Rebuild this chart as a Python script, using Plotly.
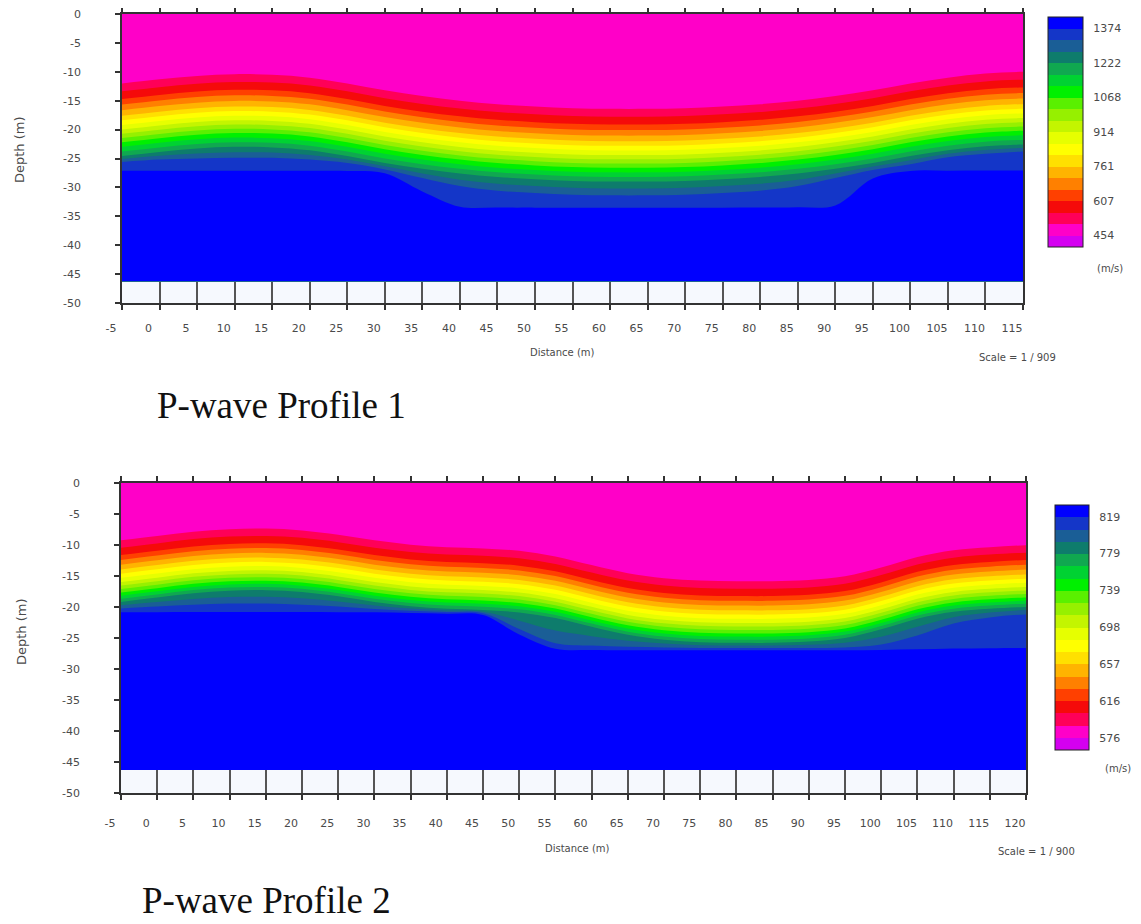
import plotly.graph_objects as go

# page is 1141x924; the browser body has an 8 px margin, so the figure is 8 px smaller
PAGE_W, PAGE_H = 1141, 924
OFF = 8
W, H = PAGE_W - OFF, PAGE_H - OFF

# ---------------- shared colour bands (bottom -> top) ----------------
BAND_COLORS = [
    "#D400F0", "#FF00C8", "#FF0058", "#F50A0A", "#FF4000",
    "#FF8000", "#FFB400", "#FFE000", "#FFFF00", "#E6FF00",
    "#C3F500", "#96F000", "#5AF000", "#00F000", "#00D232",
    "#10A850", "#0E7C6C", "#1A5E96", "#1436C8", "#0000FF",
]

# ---------------- Profile 1 ----------------
P1_DIST = [-5, 0, 5, 10, 15, 20, 25, 30, 35, 40, 45, 50, 55, 60, 65, 70, 75, 80,
           85, 90, 95, 100, 105, 110, 115]
# velocity (m/s) of each isoline row, and depth (m) of that isoline along the profile
P1_ROW_VEL = [480, 505, 607, 761, 914, 1068, 1222, 1324, 1376, 1400]
P1_D_SURF = [0] * 25
P1_D_505 = [-12.0, -11.3, -10.7, -10.4, -10.5, -11.0, -12.0, -13.2, -14.2, -15.0, -15.6, -16.0, -16.3,
            -16.4, -16.4, -16.3, -16.0, -15.6, -15.0, -14.2, -13.2, -12.0, -11.0, -10.3, -10.0]
P1_D_607 = [-14.7, -14.0, -13.4, -13.1, -13.2, -13.7, -14.7, -15.9, -16.9, -17.7, -18.3, -18.7, -19.0,
            -19.1, -19.1, -19.0, -18.7, -18.3, -17.7, -16.9, -15.9, -14.7, -13.7, -13.0, -12.7]
P1_D_761 = [-17.6, -16.9, -16.3, -16.0, -16.1, -16.6, -17.6, -18.8, -19.8, -20.6, -21.2, -21.6, -21.9,
            -22.0, -22.0, -21.9, -21.6, -21.2, -20.6, -19.8, -18.8, -17.6, -16.6, -15.9, -15.6]
P1_D_914 = [-20.0, -19.3, -18.7, -18.4, -18.5, -19.0, -20.0, -21.2, -22.2, -23.0, -23.6, -24.0, -24.3,
            -24.4, -24.4, -24.3, -24.0, -23.6, -23.0, -22.2, -21.2, -20.0, -19.0, -18.3, -18.0]
P1_D_1068 = [-22.2, -21.5, -20.9, -20.6, -20.7, -21.2, -22.2, -23.4, -24.4, -25.2, -25.8, -26.2, -26.5,
             -26.6, -26.6, -26.5, -26.2, -25.8, -25.2, -24.4, -23.4, -22.2, -21.2, -20.5, -20.2]
P1_D_1222 = [-24.6, -23.9, -23.3, -23.0, -23.1, -23.6, -24.6, -25.8, -26.8, -27.6, -28.2, -28.6, -28.9,
             -29.0, -29.0, -28.9, -28.6, -28.2, -27.6, -26.8, -25.8, -24.6, -23.6, -22.9, -22.6]
P1_D_1324 = [-25.6, -25.2, -25.0, -24.9, -24.9, -25.2, -25.8, -26.9, -28.4, -29.8, -30.6, -31.0, -31.3,
             -31.4, -31.4, -31.3, -31.0, -30.6, -29.8, -28.4, -27.0, -26.0, -24.8, -24.2, -23.8]
P1_D_1376 = [-27.2, -27.2, -27.2, -27.2, -27.2, -27.2, -27.2, -27.6, -30.8, -33.5, -33.6, -33.6, -33.6,
             -33.6, -33.6, -33.6, -33.6, -33.6, -33.6, -33.3, -28.5, -27.2, -27.2, -27.2, -27.2]
P1_D_BASE = [-46.3] * 25
P1_ROWS = [P1_D_SURF, P1_D_505, P1_D_607, P1_D_761, P1_D_914, P1_D_1068, P1_D_1222,
           P1_D_1324, P1_D_1376, P1_D_BASE]
P1_LEVELS = dict(start=454.2, end=1374.1, size=51.1)
P1_ZRANGE = (403.1, 1425.1)
P1_CB_TICKS = [454, 607, 761, 914, 1068, 1222, 1374]
P1_XTICKS = list(range(-5, 120, 5))

# ---------------- Profile 2 ----------------
P2_DIST = [-5, 0, 5, 10, 15, 20, 25, 30, 35, 40, 45, 50, 55, 60, 65, 70, 75, 80,
           85, 90, 95, 100, 105, 110, 115, 120]
P2_ROW_VEL = [583, 589, 616, 658, 698, 739, 779, 805, 820, 826]
P2_D_SURF = [0] * 26
P2_D_589 = [-9.2, -8.5, -7.8, -7.4, -7.3, -7.6, -8.3, -9.2, -9.9, -10.3, -10.5, -10.9, -11.8, -13.2,
            -14.5, -15.3, -15.7, -15.8, -15.8, -15.6, -15.0, -13.6, -11.9, -10.8, -10.3, -10.0]
P2_D_616 = [-11.6, -10.9, -10.2, -9.8, -9.7, -10.0, -10.7, -11.6, -12.3, -12.7, -12.9, -13.3, -14.2,
            -15.6, -16.9, -17.7, -18.1, -18.2, -18.2, -18.0, -17.4, -16.0, -14.3, -13.2, -12.7, -12.4]
P2_D_658 = [-14.0, -13.3, -12.6, -12.2, -12.1, -12.4, -13.1, -14.0, -14.7, -15.1, -15.3, -15.7, -16.6,
            -18.0, -19.3, -20.1, -20.5, -20.6, -20.6, -20.4, -19.8, -18.4, -16.7, -15.6, -15.1, -14.8]
P2_D_698 = [-16.0, -15.3, -14.6, -14.2, -14.1, -14.4, -15.1, -16.0, -16.7, -17.1, -17.3, -17.7, -18.6,
            -20.0, -21.3, -22.1, -22.5, -22.6, -22.6, -22.4, -21.8, -20.4, -18.7, -17.6, -17.1, -16.8]
P2_D_739 = [-17.7, -17.0, -16.3, -15.9, -15.8, -16.1, -16.8, -17.7, -18.4, -18.8, -19.0, -19.4, -20.3,
            -21.7, -23.0, -23.8, -24.2, -24.3, -24.3, -24.1, -23.5, -22.1, -20.4, -19.3, -18.8, -18.5]
P2_D_779 = [-19.2, -18.5, -17.8, -17.4, -17.3, -17.6, -18.3, -19.2, -19.9, -20.3, -20.5, -20.9, -21.8,
            -23.2, -24.5, -25.3, -25.7, -25.8, -25.8, -25.6, -25.0, -23.6, -21.9, -20.8, -20.3, -20.0]
P2_D_805 = [-20.2, -19.9, -19.6, -19.4, -19.4, -19.6, -19.9, -20.3, -20.6, -20.8, -21.0, -23.5, -25.8,
            -26.2, -26.4, -26.5, -26.6, -26.6, -26.6, -26.6, -26.5, -26.0, -24.5, -22.5, -21.5, -21.0]
P2_D_820 = [-20.9, -20.9, -20.9, -20.9, -20.9, -20.9, -20.9, -20.9, -21.0, -21.1, -21.3, -24.5, -26.8,
            -27.0, -27.0, -27.0, -27.0, -27.0, -27.0, -27.0, -27.0, -27.0, -27.0, -27.0, -27.0, -27.0]
P2_D_BASE = [-46.3] * 26
P2_ROWS = [P2_D_SURF, P2_D_589, P2_D_616, P2_D_658, P2_D_698, P2_D_739, P2_D_779,
           P2_D_805, P2_D_820, P2_D_BASE]
P2_LEVELS = dict(start=576, end=819.1, size=13.5)
P2_ZRANGE = (562.5, 832.5)
P2_CB_TICKS = [576, 616, 657, 698, 739, 779, 819]
P2_XTICKS = list(range(-5, 125, 5))

Y_TICKS = list(range(0, -55, -5))

FONT = "DejaVu Sans, Verdana, sans-serif"
SERIF = "Liberation Serif, Times New Roman, serif"
GREY = "#4a4a4a"


def band_scale(colors):
    n = len(colors)
    cs = []
    for i, c in enumerate(colors):
        cs.append([i / n, c])
        cs.append([(i + 1) / n, c])
    return cs


def hidden_axis(smooth):
    return dict(showgrid=False, showline=False, showticklabels="none", startline=False,
                endline=False, minorgridcount=0, smoothing=smooth,
                gridcolor="rgba(0,0,0,0)", linecolor="rgba(0,0,0,0)", title=dict(text=""))


def px_x(p):
    return (p - OFF) / W


def px_y(p):
    return 1 - (p - OFF) / H


fig = go.Figure()


def add_profile(cid, dist, row_vel, rows, levels, zr, cb_ticks, xa, ya, cb_x, cb_y, cb_len, cb_th):
    # the carpet is continued one station past the right end of the axis (clipped, not visible)
    # so that the carpet's closing edge falls outside the plotted range
    step = dist[-1] - dist[-2]
    dist_c = dist + [dist[-1] + step]
    rows_c = [r + [r[-1]] for r in rows]
    a_idx = list(range(len(dist_c)))
    b_idx = list(range(len(row_vel)))
    fig.add_trace(go.Carpet(
        carpet=cid, a=a_idx, b=b_idx,
        x=[dist_c for _ in rows_c], y=rows_c,
        xaxis=xa, yaxis=ya,
        aaxis=hidden_axis(1), baxis=hidden_axis(0),
    ))
    fig.add_trace(go.Contourcarpet(
        carpet=cid, a=a_idx, b=b_idx,
        z=[[v] * len(dist_c) for v in row_vel],
        xaxis=xa, yaxis=ya,
        autocontour=False,
        contours=dict(start=levels["start"], end=levels["end"], size=levels["size"],
                      coloring="fill", showlines=False),
        line=dict(width=0),
        colorscale=band_scale(BAND_COLORS), zmin=zr[0], zmax=zr[1],
        colorbar=dict(
            x=px_x(cb_x), xanchor="left", y=px_y(cb_y), yanchor="middle",
            xpad=0, ypad=0,
            len=cb_len / H, lenmode="fraction", thickness=cb_th, thicknessmode="pixels",
            outlinecolor="#222", outlinewidth=1,
            tickmode="array", tickvals=cb_ticks, ticktext=[str(t) for t in cb_ticks],
            ticks="outside", ticklen=8, tickcolor="rgba(0,0,0,0)",
            tickfont=dict(family=FONT, size=11, color=GREY),
        ),
    ))


add_profile("c1", P1_DIST, P1_ROW_VEL, P1_ROWS, P1_LEVELS, P1_ZRANGE, P1_CB_TICKS,
            "x", "y", 1048, 132, 230, 35)
add_profile("c2", P2_DIST, P2_ROW_VEL, P2_ROWS, P2_LEVELS, P2_ZRANGE, P2_CB_TICKS,
            "x2", "y2", 1055, 627.5, 245, 34)


def xaxis_cfg(rng, ticks, dom, anchor, standoff):
    return dict(
        domain=dom, range=rng, anchor=anchor,
        tickmode="array", tickvals=ticks, ticktext=[str(t) for t in ticks],
        ticks="outside", ticklen=5, tickwidth=1.5, tickcolor="#333",
        showline=True, linecolor="#333", linewidth=1.5, mirror="ticks",
        showgrid=True, gridcolor="#555", gridwidth=1.5,
        zeroline=False, ticklabelshift=-11, ticklabelstandoff=standoff,
        ticklabeloverflow="allow",
        tickfont=dict(family=FONT, size=11, color=GREY),
    )


def yaxis_cfg(dom, anchor):
    return dict(
        domain=dom, range=[-50, 0], anchor=anchor,
        tickmode="array", tickvals=Y_TICKS, ticktext=[str(t) for t in Y_TICKS],
        ticks="outside", ticklen=5, tickwidth=1.5, tickcolor="#333",
        showline=True, linecolor="#333", linewidth=1.5, mirror=True,
        showgrid=False, zeroline=False, ticklabelstandoff=32,
        ticklabeloverflow="allow",
        tickfont=dict(family=FONT, size=11, color=GREY),
    )


fig.update_layout(
    width=W, height=H, margin=dict(l=0, r=0, t=0, b=0, autoexpand=False),
    paper_bgcolor="white", plot_bgcolor="#F6F9FE",
    showlegend=False,
    xaxis=xaxis_cfg([-5, 115], P1_XTICKS, [px_x(122), px_x(1023)], "y", 9),
    yaxis=yaxis_cfg([px_y(303), px_y(14)], "x"),
    xaxis2=xaxis_cfg([-5, 120], P2_XTICKS, [px_x(121), px_x(1026)], "y2", 14),
    yaxis2=yaxis_cfg([px_y(793), px_y(483)], "x2"),
)

ANN = [
    ("Depth (m)", 20, 150, 13, FONT, GREY, -90, "center"),
    ("Depth (m)", 21, 632, 13, FONT, GREY, -90, "center"),
    ("Distance (m)", 562, 353, 10, FONT, GREY, 0, "center"),
    ("Scale = 1 / 909", 1017, 357, 10, FONT, GREY, 0, "center"),
    ("Distance (m)", 577, 848, 10, FONT, GREY, 0, "center"),
    ("Scale = 1 / 900", 1036, 851, 10, FONT, GREY, 0, "center"),
    ("(m/s)", 1110, 268, 10, FONT, GREY, 0, "center"),
    ("(m/s)", 1118, 768, 10, FONT, GREY, 0, "center"),
    ("P-wave Profile 1", 155, 405, 37, SERIF, "#111", 0, "left"),
    ("P-wave Profile 2", 140, 900, 37, SERIF, "#111", 0, "left"),
]
for text, x, y, size, fam, col, ang, xanc in ANN:
    fig.add_annotation(text=text, x=px_x(x), y=px_y(y), xref="paper", yref="paper",
                       xanchor=xanc, yanchor="middle", showarrow=False, textangle=ang,
                       font=dict(family=fam, size=size, color=col))

fig.write_html("out.html")
